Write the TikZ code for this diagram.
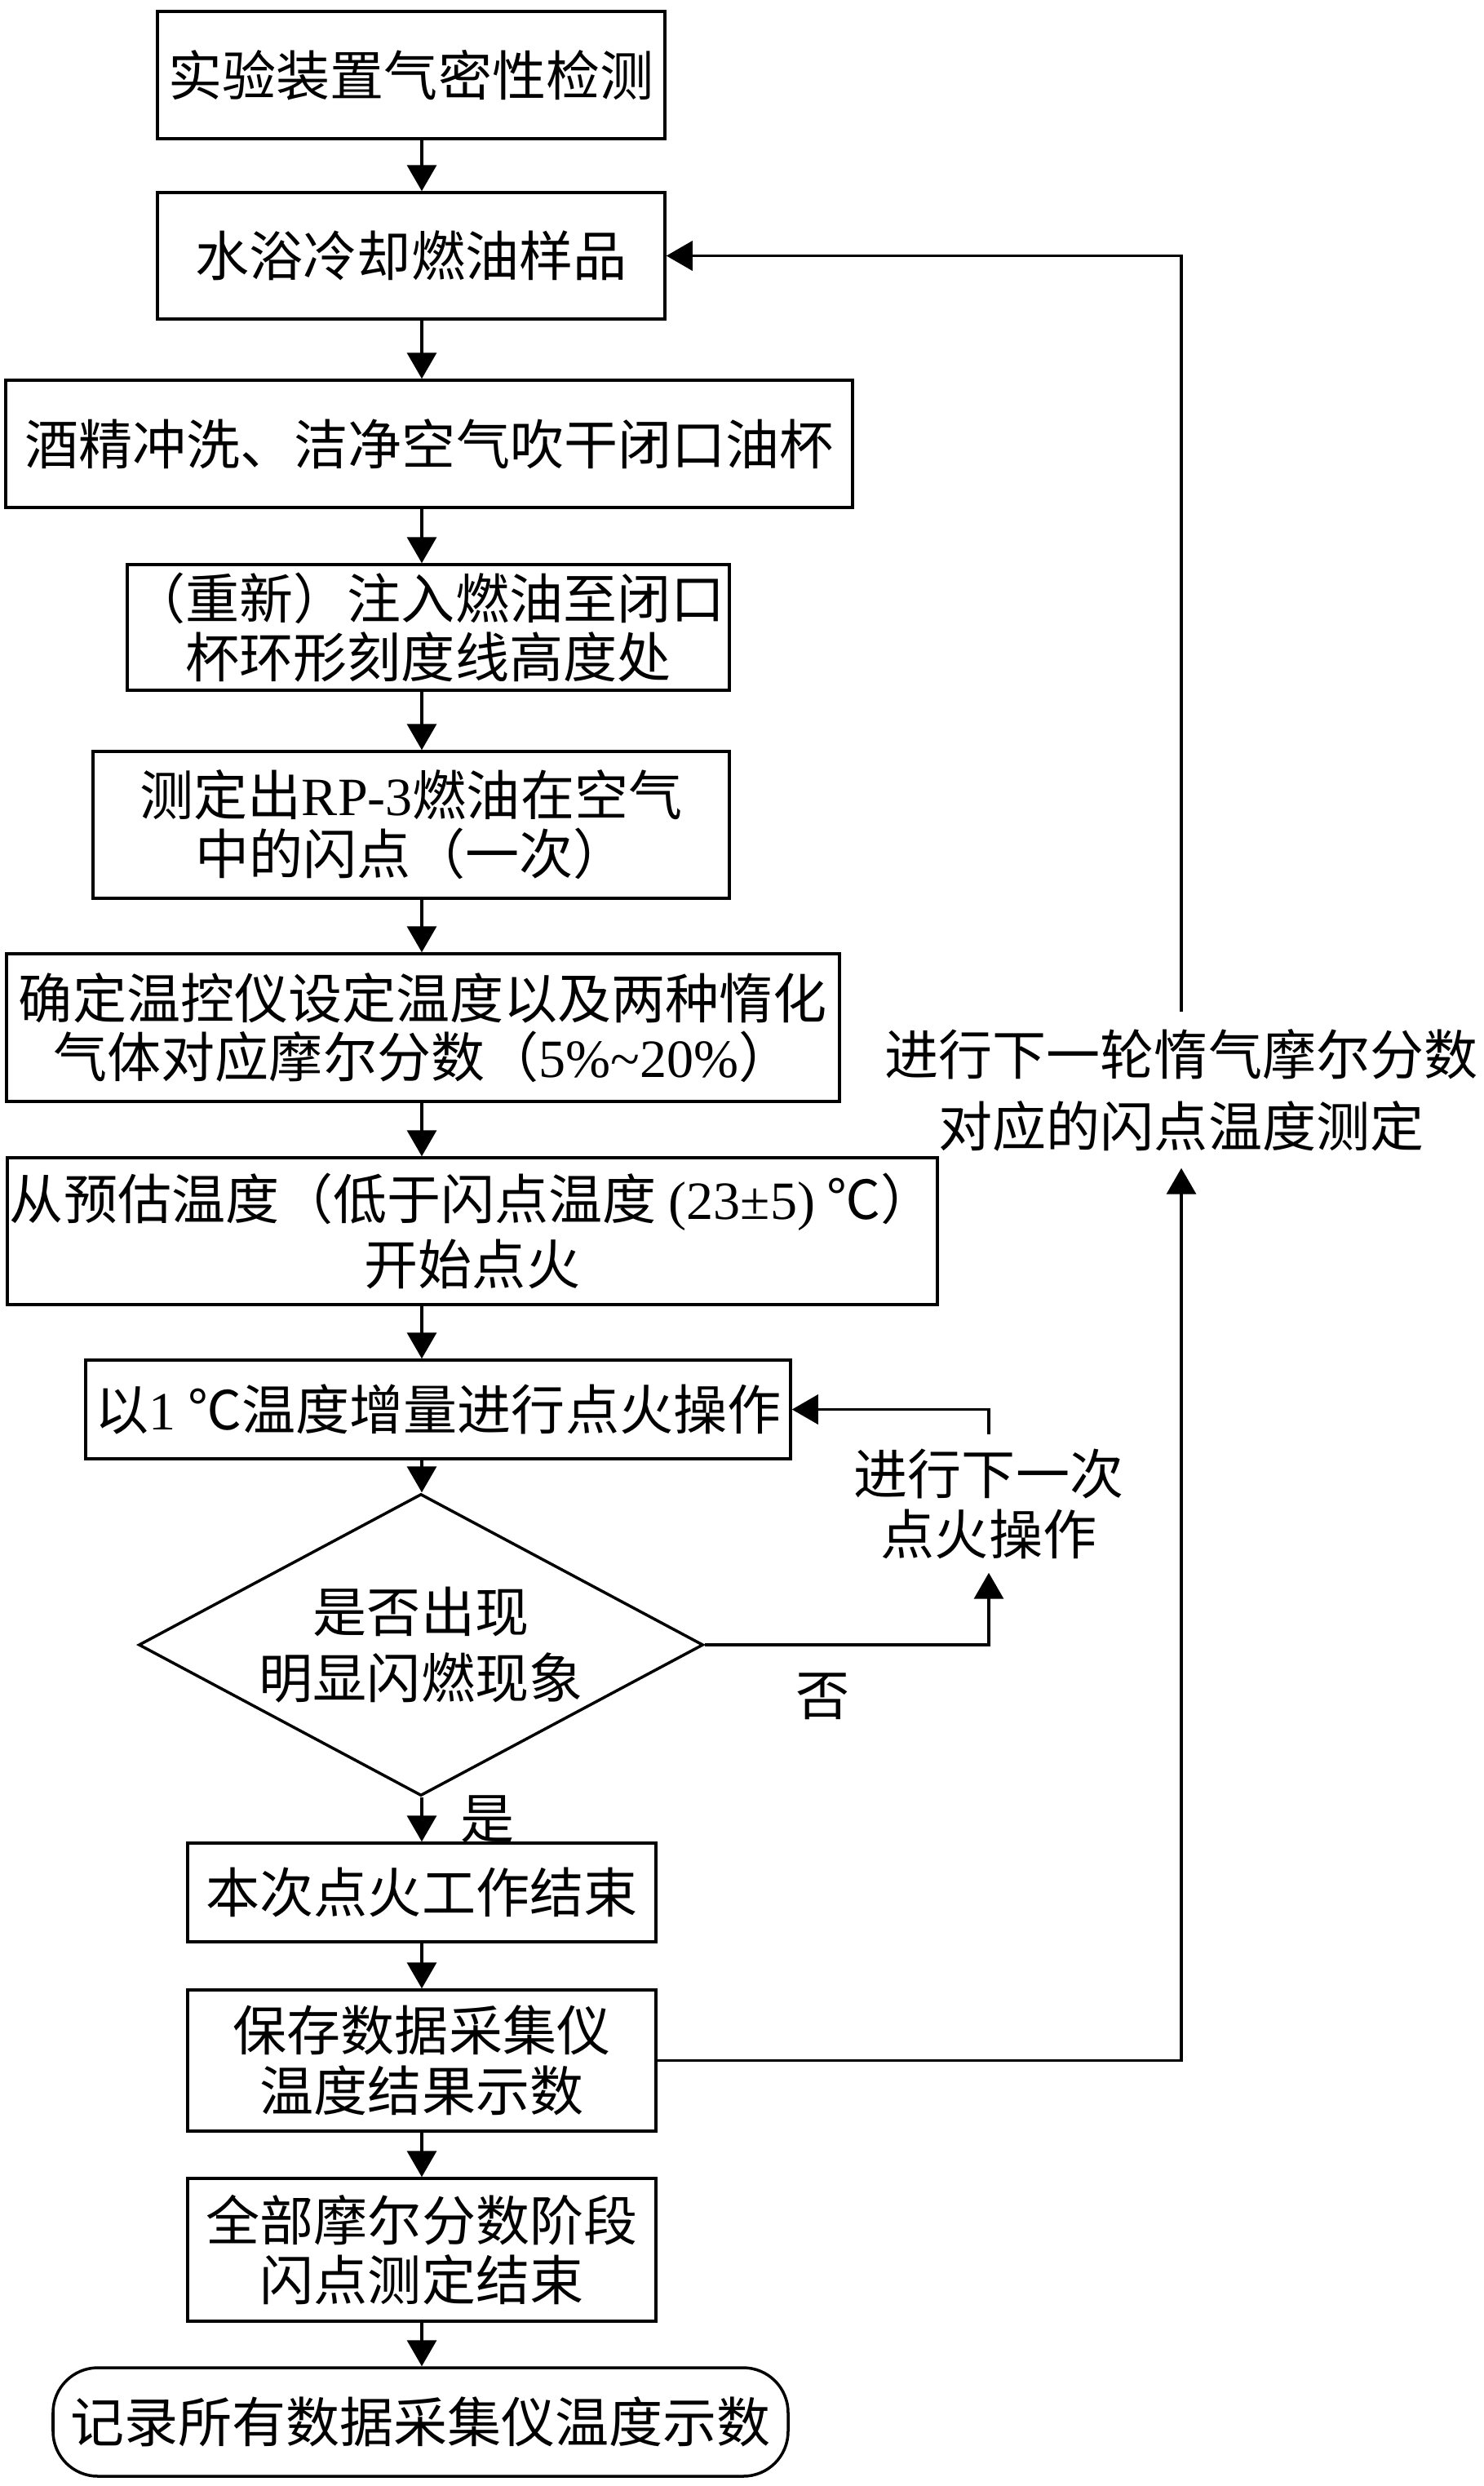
\documentclass[tikz,border=0pt]{standalone}
\usepackage{fontspec}
\setmainfont{Liberation Serif}
\newfontfamily\cjk{Noto Sans CJK SC}
\usepackage{xcolor}
\usepackage{tikz}
\usetikzlibrary{shapes.geometric,arrows.meta}
\newcommand{\lat}[1]{{\rmfamily #1}}

\begin{document}
\begin{tikzpicture}[
  box/.style={draw, line width=1pt, inner sep=0pt, align=center,
    font=\cjk\fontsize{18.8pt}{21pt}\selectfont},
  lbl/.style={inner sep=0pt, align=center,
    font=\cjk\fontsize{18.8pt}{21pt}\selectfont},
  arr/.style={line width=1pt, -{Triangle[length=3.2mm,width=3.6mm]}}
]
\useasboundingbox (0,0) rectangle (18.19,-30.47);
\coordinate (axis) at (5.17,0);

% main column
\node[box, minimum width=6.22cm, minimum height=1.56cm] (n1) at (5.04,-0.92) {实验装置气密性检测};
\node[box, minimum width=6.22cm, minimum height=1.55cm] (n2) at (5.04,-3.135) {水浴冷却燃油样品};
\node[box, minimum width=10.38cm, minimum height=1.56cm] (n3) at (5.26,-5.44) {酒精冲洗、洁净空气吹干闭口油杯};
\node[box, minimum width=7.38cm, minimum height=1.54cm] (n4) at (5.25,-7.69) {（重新）注入燃油至闭口\\[-0.5pt]杯环形刻度线高度处};
\node[box, minimum width=7.80cm, minimum height=1.80cm] (n5) at (5.04,-10.11) {测定出\lat{RP-3}燃油在空气\\[-0.5pt]中的闪点（一次）};
\node[box, minimum width=10.21cm, minimum height=1.81cm] (n6) at (5.185,-12.595) {确定温控仪设定温度以及两种惰化\\[-0.5pt]气体对应摩尔分数（\lat{5\%\textasciitilde20\%}）};
\node[box, minimum width=11.40cm, minimum height=1.80cm] (n7) at (5.79,-15.09) {从预估温度（低于闪点温度 \lat{(23±5)} ℃）\\[2pt]开始点火};
\node[box, minimum width=8.64cm, minimum height=1.21cm] (n8) at (5.37,-17.275) {以\lat{1} ℃温度增量进行点火操作};
\node[box, diamond, aspect=1.87, minimum width=6.92cm, minimum height=3.70cm] (d) at (5.16,-20.16) {是否出现\\[2pt]明显闪燃现象};
\node[box, minimum width=5.74cm, minimum height=1.21cm] (n9) at (5.17,-23.195) {本次点火工作结束};
\node[box, minimum width=5.74cm, minimum height=1.73cm] (n10) at (5.17,-25.255) {保存数据采集仪\\温度结果示数};
\node[box, minimum width=5.74cm, minimum height=1.75cm] (n11) at (5.17,-27.575) {全部摩尔分数阶段\\闪点测定结束};
\node[box, rounded corners=0.55cm, minimum width=9.01cm, minimum height=1.33cm] (t) at (5.155,-29.685) {记录所有数据采集仪温度示数};

\foreach \a/\b in {n1/n2,n2/n3,n3/n4,n4/n5,n5/n6,n6/n7,n7/n8,n8/d,d/n9,n9/n10,n10/n11,n11/t}
  \draw[arr] (\a.south -| axis) -- (\b.north -| axis);

% labels
\node[lbl] (no) at (10.09,-20.79) {否};
\node[lbl] (yes) at (5.98,-22.30) {是};

% small loop
\node[lbl, minimum height=1.68cm] (retry) at (12.12,-18.43) {进行下一次\\点火操作};
\draw[arr] (d.east) -| (retry.south);
\draw[arr] (retry.north) |- (n8.east);

% big loop
\node[lbl, minimum height=1.90cm] (next) at (14.48,-13.36) {进行下一轮惰气摩尔分数\\[4pt]对应的闪点温度测定};
\draw[arr] (n10.east) -| (next.south);
\draw[arr] (next.north) |- (n2.east);
\end{tikzpicture}
\end{document}
